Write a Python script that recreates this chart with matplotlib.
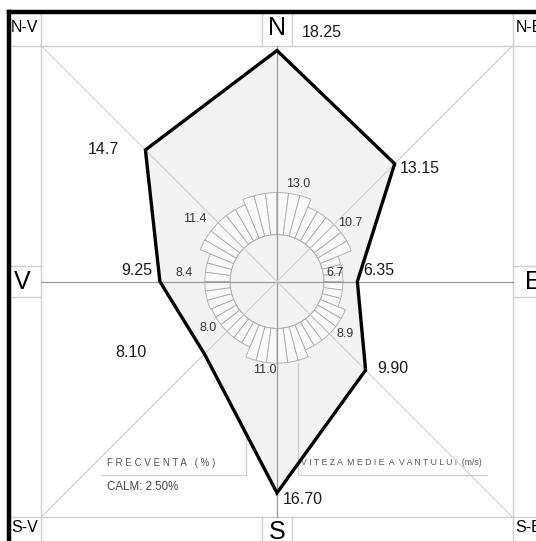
import matplotlib.pyplot as plt
import numpy as np
from matplotlib.patches import Polygon, Wedge, Circle

plt.rcParams['font.family'] = ['Liberation Sans', 'DejaVu Sans']

# data
directions = ['N', 'N-E', 'E', 'S-E', 'S', 'S-V', 'V', 'N-V']
angles = [0, 45, 90, 135, 180, 225, 270, 315]          # compass degrees
frequency = [18.25, 13.15, 6.35, 9.90, 16.70, 8.10, 9.25, 14.7]
freq_labels = ['18.25', '13.15', '6.35', '9.90', '16.70', '8.10', '9.25', '14.7']
speed = [13.0, 10.7, 6.7, 8.9, 11.0, 8.0, 8.4, 11.4]
speed_labels = ['13.0', '10.7', '6.7', '8.9', '11.0', '8.0', '8.4', '11.4']
calm = 2.50

# layout (axes units = % frequency)
R = 18.64                # half size of the square frame
inner = 3.71             # inner circle of speed rose
spd0, spd_k = 3.28, 0.288
n_sub = 6

def xy(r, a):
    t = np.deg2rad(a)
    return r * np.sin(t), r * np.cos(t)

fig = plt.figure(figsize=(5.36, 5.41), dpi=100)
ax = fig.add_axes([0, 0, 1, 1])
ax.set_xlim(-21.88, 20.46)
ax.set_ylim(-20.50, 22.24)
ax.set_aspect('equal')
ax.axis('off')

light = '#cfcfcf'
mid = '#9a9a9a'

# frame
ax.plot([-21.17, -21.17], [-25, 21.29], color='black', lw=3.2, zorder=10, solid_capstyle='projecting')
ax.plot([-21.17, 25], [21.29, 21.29], color='black', lw=3.2, zorder=10, solid_capstyle='projecting')
for v in (-R, R):
    ax.plot([v, v], [-25, 21.29], color=light, lw=1, zorder=1)
    ax.plot([-21.17, 25], [v, v], color=light, lw=1, zorder=1)
for v in (-1.22, 1.22):
    ax.plot([v, v], [R, 21.29], color=light, lw=1, zorder=1)
    ax.plot([v, v], [-R, -25], color=light, lw=1, zorder=1)
    ax.plot([-21.17, -R], [v, v], color=light, lw=1, zorder=1)
    ax.plot([R, 25], [v, v], color=light, lw=1, zorder=1)

# leader for frequency legend (hidden under polygon)
ax.plot([-2.45, -2.45, -13.9], [0, -15.3, -15.3], color=light, lw=1, zorder=1)

# frequency polygon
pts = [xy(f, a) for f, a in zip(frequency, angles)]
ax.add_patch(Polygon(pts, closed=True, facecolor='#f2f2f2', edgecolor='none', zorder=2))
ax.add_patch(Polygon(pts, closed=True, fill=False, edgecolor='black', lw=2.4,
                     joinstyle='miter', zorder=6))

# speed rose
ax.add_patch(Circle((0, 0), inner, facecolor='#f2f2f2', edgecolor='#a8a8a8', lw=0.7, zorder=3))
for s, a in zip(speed, angles):
    top = spd0 + spd_k * s
    step = 45 / n_sub
    for i in range(n_sub):
        t1 = 90 - (a - 22.5 + i * step)
        ax.add_patch(Wedge((0, 0), top, t1 - step, t1, width=top - inner,
                           facecolor='#f8f8f8', edgecolor='#a8a8a8', lw=0.6, zorder=3))

# axes lines
for a in (0, 90):
    x0, y0 = xy(R, a)
    ax.plot([-x0, x0], [-y0, y0], color=mid, lw=0.9, zorder=4)
for a in (45, 135):
    ax.plot([-R, R] if a == 45 else [-R, R], [-R, R] if a == 45 else [R, -R],
            color=light, lw=0.8, zorder=4)

# speed legend leader
s_top = spd0 + spd_k * speed[4]
ax.plot([1.66, 1.66, 16.6], [-s_top, -15.3, -15.3], color=light, lw=1, zorder=4)

# frequency labels
freq_off = [('left', 25, 18), ('left', 5, -5), ('left', 6, 11), ('left', 12, 2),
            ('left', 6, -7), ('right', -58, 2), ('right', -8, 11), ('right', -26, 0)]
for f, a, lab, (ha, dx, dy) in zip(frequency, angles, freq_labels, freq_off):
    ax.annotate(lab, xy(f, a), xytext=(dx, dy), textcoords='offset pixels',
                ha=ha, va='center', fontsize=11.5, color='#1a1a1a', zorder=8)

# speed labels
spd_off = [(21, 9), (16, 2), (-8, 9), (16, 0), (-12, -7), (-19, 3), (-21, 9), (-23, 4)]
for s, a, lab, (dx, dy) in zip(speed, angles, speed_labels, spd_off):
    ax.annotate(lab, xy(spd0 + spd_k * s, a), xytext=(dx, dy), textcoords='offset pixels',
                ha='center', va='center', fontsize=9, color='#333333', zorder=8)

# direction labels
ax.text(0, 20.05, 'N', ha='center', va='center', fontsize=18)
ax.text(0, -19.75, 'S', ha='center', va='center', fontsize=18)
ax.text(-20.1, 0, 'V', ha='center', va='center', fontsize=18)
ax.text(19.6, 0, 'E', ha='left', va='center', fontsize=18)
ax.text(-21.0, 20.1, 'N-V', ha='left', va='center', fontsize=11.5)
ax.text(18.85, 20.1, 'N-E', ha='left', va='center', fontsize=11.5)
ax.text(-21.0, -19.4, 'S-V', ha='left', va='center', fontsize=11.5)
ax.text(18.85, -19.4, 'S-E', ha='left', va='center', fontsize=11.5)

# legend texts
ax.text(-13.4, -14.3, 'F R E C V E N T A   ( % )', ha='left', va='center',
        fontsize=7, color='#555555')
ax.text(-13.4, -16.25, 'CALM: %.2f%%' % calm, ha='left', va='center',
        fontsize=8.3, color='#444444')
ax.text(1.9, -14.3, 'V I T E Z A  M E D I E  A  V A N T U L U I  (m/s)', ha='left',
        va='center', fontsize=6.3, color='#555555')

fig.savefig('out.png', dpi=100)
